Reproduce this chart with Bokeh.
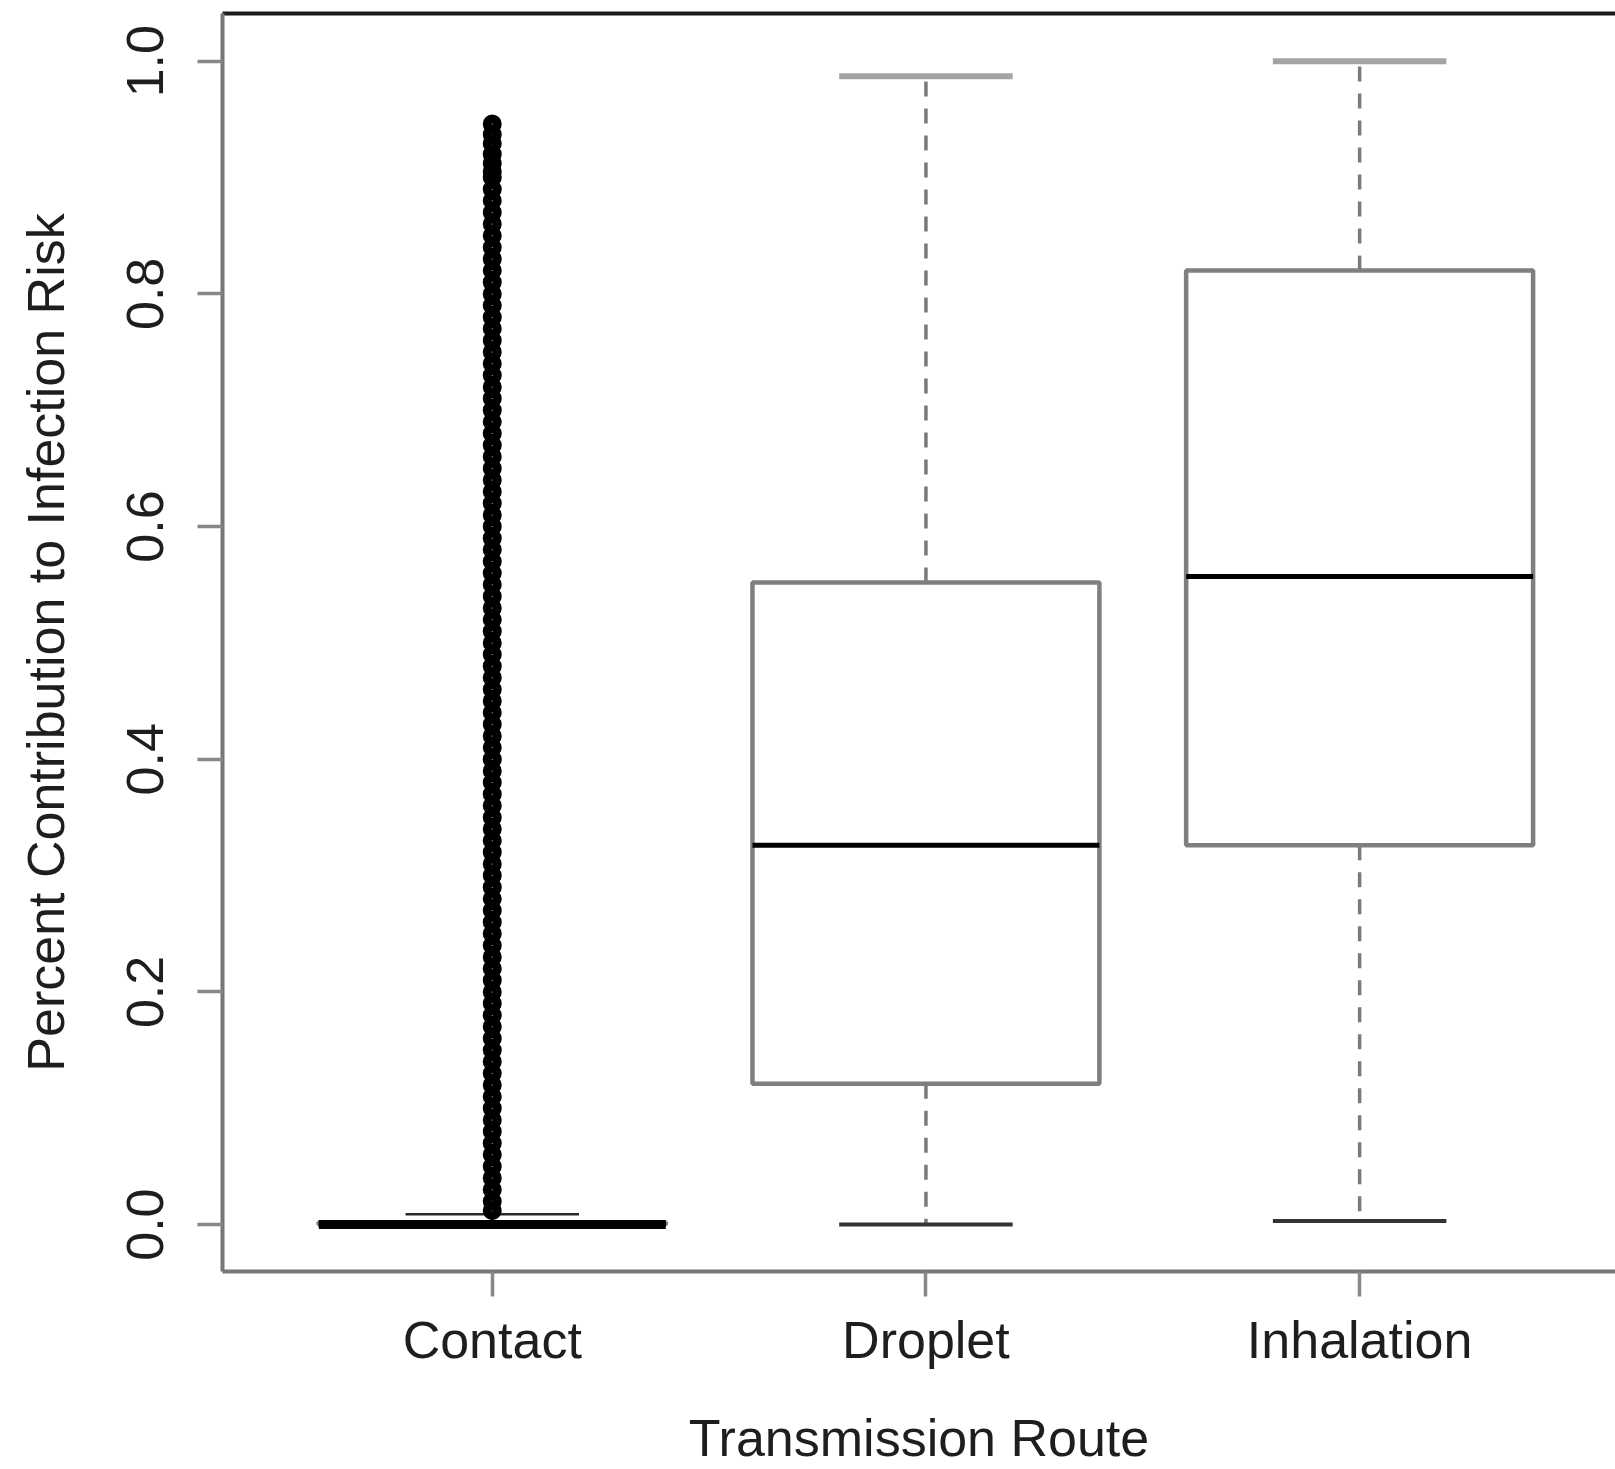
from bokeh.plotting import figure
from bokeh.models import Range1d, FixedTicker, LinearAxis, ColumnDataSource
from bokeh.embed import file_html
from bokeh.resources import INLINE

# ---- data ----
routes = ["Contact", "Droplet", "Inhalation"]
positions = [1, 2, 3]
q1 = [0.0, 0.121, 0.326]
medians = [0.0, 0.326, 0.557]
q3 = [0.002, 0.552, 0.820]
lower_whisker = [0.0, 0.0, 0.003]
upper_whisker = [0.009, 0.987, 1.0]
y_ticks = [0.0, 0.2, 0.4, 0.6, 0.8, 1.0]
y_tick_labels = ["0.0", "0.2", "0.4", "0.6", "0.8", "1.0"]
contact_outliers = [
    0.012, 0.02, 0.03, 0.04, 0.05, 0.06, 0.07, 0.08, 0.09, 0.10,
    0.11, 0.12, 0.13, 0.14, 0.15, 0.16, 0.17, 0.18, 0.19, 0.20,
    0.21, 0.22, 0.23, 0.24, 0.25, 0.26, 0.27, 0.28, 0.29, 0.30,
    0.31, 0.32, 0.33, 0.34, 0.35, 0.36, 0.37, 0.38, 0.39, 0.40,
    0.41, 0.42, 0.43, 0.44, 0.45, 0.46, 0.47, 0.48, 0.49, 0.50,
    0.51, 0.52, 0.53, 0.54, 0.55, 0.56, 0.57, 0.58, 0.59, 0.60,
    0.61, 0.62, 0.63, 0.64, 0.65, 0.66, 0.67, 0.68, 0.69, 0.70,
    0.71, 0.72, 0.73, 0.74, 0.75, 0.76, 0.77, 0.78, 0.79, 0.80,
    0.81, 0.82, 0.83, 0.84, 0.85, 0.86, 0.87, 0.88, 0.89, 0.90,
    0.905, 0.912, 0.92, 0.929, 0.937, 0.946,
]

BOX_HALF = 0.4
CAP_HALF = 0.2
FONT = "Liberation Sans"

p = figure(
    width=1615, height=1469,
    x_range=Range1d(0.378, 3.59), y_range=Range1d(-0.0403, 1.041),
    output_backend="svg", toolbar_location=None,
    min_border_left=222, min_border_right=0, min_border_top=13, min_border_bottom=194,
)
p.grid.visible = False
p.outline_line_color = None
p.background_fill_color = "white"
p.border_fill_color = "white"

box_src = ColumnDataSource(dict(
    left=[x - BOX_HALF for x in positions],
    right=[x + BOX_HALF for x in positions],
    bottom=q1, top=q3, x=positions, med=medians,
    lw=lower_whisker, uw=upper_whisker,
    cl=[x - CAP_HALF for x in positions],
    cr=[x + CAP_HALF for x in positions],
))

# whiskers (dashed)
p.segment(x0="x", y0="top", x1="x", y1="uw", source=box_src,
          line_color="#7a7a7a", line_width=3.5, line_dash="15 12")
p.segment(x0="x", y0="bottom", x1="x", y1="lw", source=box_src,
          line_color="#7a7a7a", line_width=3.5, line_dash="15 12")

# caps
upper_cap_src = ColumnDataSource(dict(
    cl=[x - CAP_HALF for x in positions[1:]], cr=[x + CAP_HALF for x in positions[1:]],
    y=upper_whisker[1:]))
p.segment(x0="cl", y0="y", x1="cr", y1="y", source=upper_cap_src,
          line_color="#a4a4a4", line_width=6)
contact_cap_src = ColumnDataSource(dict(
    cl=[positions[0] - CAP_HALF], cr=[positions[0] + CAP_HALF], y=[upper_whisker[0]]))
p.segment(x0="cl", y0="y", x1="cr", y1="y", source=contact_cap_src,
          line_color="#2a2a2a", line_width=2.5)
p.segment(x0="cl", y0="lw", x1="cr", y1="lw", source=box_src,
          line_color="#333333", line_width=4)

# box bodies
p.quad(left="left", right="right", bottom="bottom", top="top", source=box_src,
       fill_color="white", line_color="#7f7f7f", line_width=4.5)

# medians
p.segment(x0="left", y0="med", x1="right", y1="med", source=box_src,
          line_color="#000000", line_width=5)

# contact: dense black bar at zero
contact_src = ColumnDataSource(dict(x0=[positions[0] - BOX_HALF], x1=[positions[0] + BOX_HALF],
                                    y=[medians[0]]))
p.segment(x0="x0", y0="y", x1="x1", y1="y", source=contact_src,
          line_color="#000000", line_width=9)

# outliers (heavily overlapping open circles)
p.scatter(x=[positions[0]] * len(contact_outliers), y=contact_outliers,
          marker="circle", size=10, line_width=9, line_color="black", fill_alpha=0)

# axes
xa = p.xaxis[0]
xa.ticker = FixedTicker(ticks=positions)
xa.major_label_overrides = {pos: name for pos, name in zip(positions, routes)}
xa.axis_label = "Transmission Route"
ya = p.yaxis[0]
ya.ticker = FixedTicker(ticks=y_ticks)
ya.major_label_overrides = {t: s for t, s in zip(y_ticks, y_tick_labels)}
ya.axis_label = "Percent Contribution to Infection Risk"
ya.major_label_orientation = "vertical"

for ax in (xa, ya):
    ax.axis_line_color = "#777777"
    ax.axis_line_width = 4
    ax.major_tick_line_color = "#888888"
    ax.major_tick_line_width = 3.5
    ax.major_tick_out = 25
    ax.major_tick_in = 0
    ax.minor_tick_line_color = None
    ax.major_label_text_font = FONT
    ax.major_label_text_font_size = "52px"
    ax.major_label_text_color = "#1e1e1e"
    ax.axis_label_text_font = FONT
    ax.axis_label_text_font_size = "52px"
    ax.axis_label_text_font_style = "normal"
    ax.axis_label_text_color = "#1e1e1e"

xa.major_label_standoff = 14
xa.axis_label_standoff = 37
ya.major_label_standoff = 34
ya.axis_label_standoff = 50

top = LinearAxis(ticker=FixedTicker(ticks=[]), axis_line_color="#1a1a1a", axis_line_width=4,
                 major_tick_line_color=None, minor_tick_line_color=None,
                 major_label_text_font_size="0px")
p.add_layout(top, "above")

open("out.html", "w").write(file_html(p, INLINE))
